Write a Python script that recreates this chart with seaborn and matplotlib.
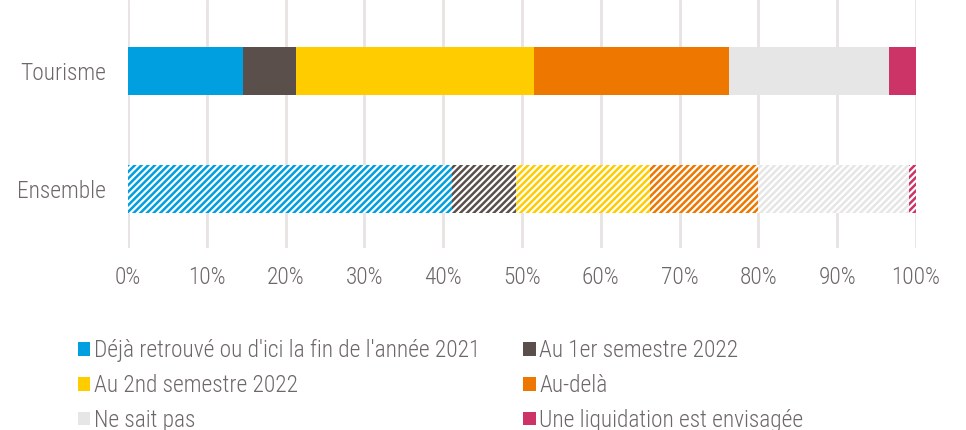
import matplotlib
matplotlib.use("Agg")
import matplotlib.pyplot as plt
import seaborn as sns
import pandas as pd
import numpy as np
from matplotlib import font_manager
from matplotlib.patches import Patch

categories = ["Tourisme", "Ensemble"]
series = ["Déjà retrouvé ou d'ici la fin de l'année 2021", "Au 1er semestre 2022",
          "Au 2nd semestre 2022", "Au-delà", "Ne sait pas", "Une liquidation est envisagée"]
tourisme = [14.6, 6.7, 30.2, 24.8, 20.3, 3.4]
ensemble = [41.1, 8.1, 17.0, 13.8, 19.1, 0.9]
colors = ["#009fdf", "#5b4f4c", "#ffcc00", "#ee7700", "#e6e6e6", "#cc3366"]
xticks = [0, 10, 20, 30, 40, 50, 60, 70, 80, 90, 100]
xticklabels = [f"{v}%" for v in xticks]

sns.set_theme(style="white")
names = {f.name for f in font_manager.fontManager.ttflist}
fam = "DejaVu Sans"
for cand in ["Liberation Sans Narrow", "Roboto Condensed", "Open Sans Condensed", "Roboto"]:
    if cand in names:
        fam = cand
        break
plt.rcParams['font.family'] = [fam, 'DejaVu Sans']
plt.rcParams['font.weight'] = 'light'
plt.rcParams['hatch.linewidth'] = 1.8
txt = "#6d6768"
fs = 16.8

fig = plt.figure(figsize=(9.66, 4.30), dpi=100)
ax = fig.add_axes([128/966, 1 - 248/430, 788/966, 248/430])

vals = np.array([tourisme, ensemble])
cum = np.cumsum(vals, axis=1)
for i in range(len(series) - 1, -1, -1):
    df = pd.DataFrame({"cat": categories, "val": cum[:, i]})
    sns.barplot(data=df, y="cat", x="val", orient="h", color=colors[i], width=0.41,
                ax=ax, linewidth=0, saturation=1, order=categories)
    cont = ax.containers[-1]
    p = cont.patches[1]
    p.set_facecolor("white")
    p.set_edgecolor(colors[i])
    p.set_hatch("/////")
    p.set_linewidth(0)

ax.set_xlim(0, 100)
ax.set_ylim(1.5, -0.6)
ax.set_xticks(xticks)
ax.set_xticklabels(xticklabels)
ax.grid(axis="x", color="#e8e2e2", linewidth=2)
ax.set_axisbelow(True)
for s in ax.spines.values():
    s.set_visible(False)
ax.set_xlabel("")
ax.set_ylabel("")
ax.tick_params(axis="both", length=0, labelsize=fs, labelcolor=txt)
ax.tick_params(axis="x", pad=13)
ax.tick_params(axis="y", pad=16)

order = [0, 2, 4, 1, 3, 5]
handles = [Patch(facecolor=colors[k], edgecolor="none") for k in order]
labels = [series[k] for k in order]
leg = fig.legend(handles, labels, loc="upper left", bbox_to_anchor=(69/966, 1 - 330/430),
                 ncol=2, frameon=False, fontsize=fs, handlelength=0.52, handleheight=0.52,
                 handletextpad=0.15, columnspacing=1.85, labelspacing=0.5, borderaxespad=0)
for t in leg.get_texts():
    t.set_color(txt)

fig.savefig("out.png", dpi=100)
